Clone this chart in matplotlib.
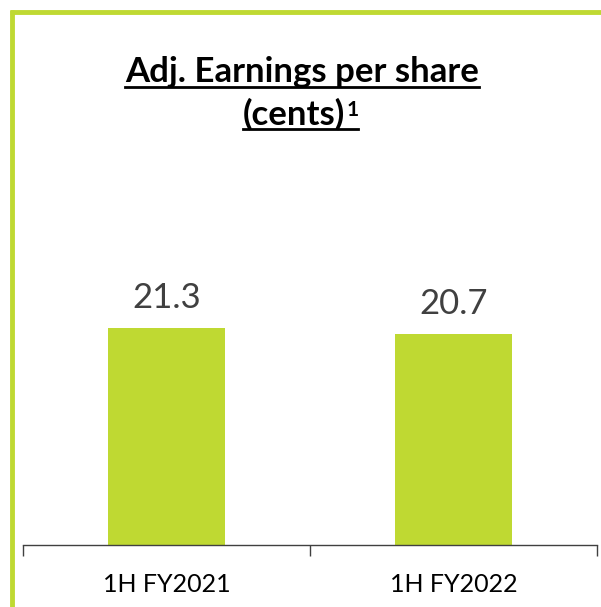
import matplotlib
matplotlib.use("Agg")
import matplotlib.pyplot as plt
from matplotlib.lines import Line2D

categories = ["1H FY2021", "1H FY2022"]
values = [21.3, 20.7]
value_labels = ["21.3", "20.7"]
title_line1 = "Adj. Earnings per share"
title_line2 = "(cents)"
footnote_mark = "1"

green = "#BFD932"
W, H = 601, 607

fig = plt.figure(figsize=(W / 100, H / 100), dpi=100)
plt.rcParams['font.family'] = ['Lato', 'DejaVu Sans']

# green frame, only top and left edges visible
fig.add_artist(Line2D([10 / W, 1], [1 - 12 / H, 1 - 12 / H], color=green, lw=3.5,
                      transform=fig.transFigure, solid_capstyle='butt'))
fig.add_artist(Line2D([12 / W, 12 / W], [0, 1 - 10 / H], color=green, lw=3.5,
                      transform=fig.transFigure, solid_capstyle='butt'))

ax = fig.add_axes([23 / W, 62 / H, (597 - 23) / W, (545 - 150) / H])
x = range(len(categories))
ax.bar(x, values, width=0.41, color=green)
for i, v in enumerate(values):
    ax.text(i, v + 1.4, value_labels[i], ha='center', va='bottom',
            fontsize=25, color='#404040')

ax.set_xlim(-0.5, 1.5)
ax.set_ylim(0, 38.8)
ax.set_yticks([])
for s in ['top', 'right', 'left']:
    ax.spines[s].set_visible(False)
ax.spines['bottom'].set_color('#404040')
ax.spines['bottom'].set_linewidth(1)
ax.set_xticks(list(x))
ax.set_xticklabels(categories, fontsize=18, color='#000000')
ax.tick_params(axis='x', which='major', length=0, pad=20)
ax.set_xticks([-0.5, 0.5, 1.5], minor=True)
ax.tick_params(axis='x', which='minor', length=8, width=1, color='#404040', direction='out')
ax.patch.set_visible(False)

# title with underline
t1 = fig.text(302 / W, 1 - 72 / H, title_line1, ha='center', va='center',
              fontsize=25, fontweight='bold', color='black')
t2 = fig.text(294 / W, 1 - 114 / H, title_line2, ha='center', va='center',
              fontsize=25, fontweight='bold', color='black')
fig.canvas.draw()
r = fig.canvas.get_renderer()
b2 = t2.get_window_extent(r)
t3 = fig.text(b2.x1 / W + 1 / W, (b2.y1 - 2) / H, footnote_mark, ha='left', va='top',
              fontsize=15, fontweight='bold', color='black')
fig.canvas.draw()
b1 = t1.get_window_extent(r)
b3 = t3.get_window_extent(r)
for (xa, xb, yb) in [(b1.x0, b1.x1, b1.y0), (b2.x0, b3.x1, b2.y0)]:
    fig.add_artist(Line2D([xa / W, xb / W], [(yb + 1) / H, (yb + 1) / H],
                          color='black', lw=2, transform=fig.transFigure))

fig.savefig("out.png", dpi=100)
